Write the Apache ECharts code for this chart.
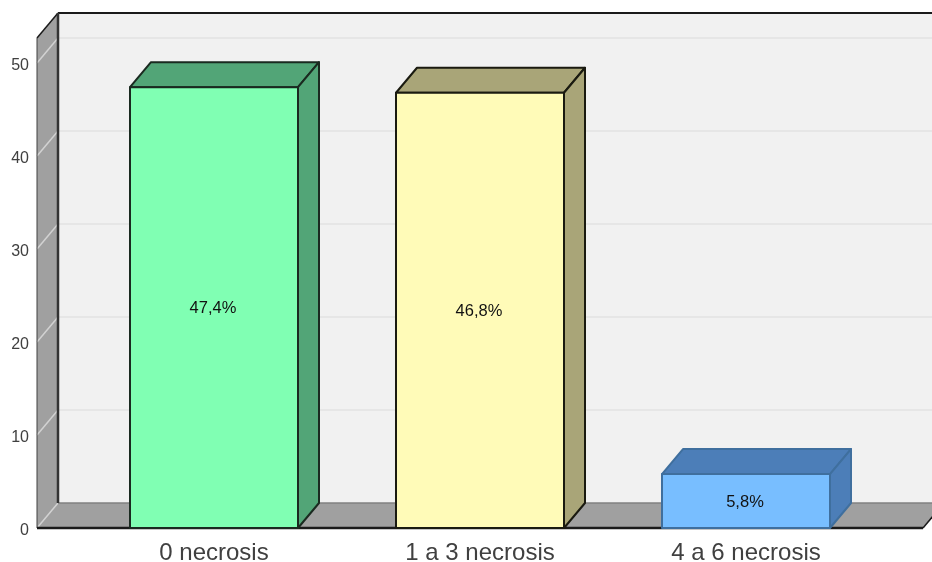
<!DOCTYPE html>
<html><head><meta charset="utf-8">
<style>html,body{margin:0;padding:0;background:#fff}#c{width:932px;height:562px}</style>
<script src="https://cdn.jsdelivr.net/npm/echarts@6/dist/echarts.min.js"></script>
</head><body><div id="c"></div>
<script>
const categories = ['0 necrosis', '1 a 3 necrosis', '4 a 6 necrosis'];
const values = [47.4, 46.8, 5.8];
const valueLabels = ['47,4%', '46,8%', '5,8%'];
const frontColors = ['#80FFB3', '#FFFBB8', '#78BEFF'];
const shadeColors = ['#52A577', '#A9A578', '#4C7EB8'];
const outlineColors = ['#1a2a20', '#1a1a10', '#3f6f9e'];
const yTicks = [0, 10, 20, 30, 40, 50];

const DX = 21, DY = 25, HEAD = 25, SIDE = 44, BAR = 168 / 266;
const chart = echarts.init(document.getElementById('c'), null, {renderer: 'canvas'});

function wallItem(params, api) {
  const cs = params.coordSys;
  const x0 = cs.x - SIDE, x1 = cs.x + cs.width + SIDE;
  const yB = api.coord([0, 0])[1], yT = api.coord([0, 50])[1] - HEAD;
  const ch = [];
  const poly = (pts, fill, stroke, lw) => ({type: 'polygon', shape: {points: pts},
    style: {fill: fill, stroke: stroke || null, lineWidth: lw || 0}});
  const line = (a, b, c, w) => ({type: 'line', shape: {x1: a[0], y1: a[1], x2: b[0], y2: b[1]},
    style: {stroke: c, lineWidth: w}});
  ch.push(poly([[x0 + DX, yT - DY + 0], [x1 + DX, yT - DY], [x1 + DX, yB - DY], [x0 + DX, yB - DY]], '#F1F1F1'));
  ch.push(poly([[x0, yT], [x0 + DX, yT - DY], [x0 + DX, yB - DY], [x0, yB]], '#A0A0A0'));
  ch.push(poly([[x0, yB], [x0 + DX, yB - DY], [x1 + DX, yB - DY], [x1, yB]], '#A0A0A0'));
  yTicks.forEach(t => {
    const y = api.coord([0, t])[1];
    if (t > 0) ch.push(line([x0 + DX, y - DY], [x1 + DX, y - DY], '#E6E6E6', 2));
    ch.push(line([x0, y], [x0 + DX, y - DY], '#D2D2D2', 1.5));
  });
  ch.push(line([x0 + DX, yB - DY], [x1 + DX, yB - DY], '#808080', 1.5));
  ch.push(line([x0 + DX, yT - DY], [x1 + DX, yT - DY], '#1a1a1a', 2));
  ch.push(line([x0, yT], [x0 + DX, yT - DY], '#1a1a1a', 1.5));
  ch.push(line([x0 + DX, yT - DY], [x0 + DX, yB - DY], '#333333', 2.5));
  ch.push(line([x0, yT], [x0, yB], '#404040', 1));
  ch.push(line([x0, yB], [x1, yB], '#1a1a1a', 2.5));
  ch.push(line([x1, yB], [x1 + DX, yB - DY], '#1a1a1a', 1.5));
  return {type: 'group', children: ch};
}

function barItem(params, api) {
  const i = api.value(0);
  const top = api.coord([i, api.value(1)]);
  const base = api.coord([i, 0]);
  const w = api.size([1, 0])[0] * BAR;
  const l = top[0] - w / 2, r = top[0] + w / 2;
  const st = (fill) => ({fill: fill, stroke: outlineColors[i], lineWidth: 2, lineJoin: 'round'});
  return {type: 'group', children: [
    {type: 'polygon', shape: {points: [[l, top[1]], [l + DX, top[1] - DY], [r + DX, top[1] - DY], [r, top[1]]]}, style: st(shadeColors[i])},
    {type: 'polygon', shape: {points: [[r, top[1]], [r + DX, top[1] - DY], [r + DX, base[1] - DY], [r, base[1]]]}, style: st(shadeColors[i])},
    {type: 'rect', shape: {x: l, y: top[1], width: r - l, height: base[1] - top[1]}, style: st(frontColors[i])},
    {type: 'text', style: {text: valueLabels[i], x: top[0] - 1, y: (top[1] + base[1]) / 2 + 1, align: 'center', verticalAlign: 'middle',
      fill: '#111', font: '16.5px "Liberation Sans", Arial, sans-serif'}}
  ]};
}

chart.setOption({
  animation: false,
  backgroundColor: '#fff',
  grid: {left: 81, right: 53, top: 63, bottom: 34, outerBoundsMode: 'none'},
  xAxis: {type: 'category', data: categories,
    axisLine: {show: false}, axisTick: {show: false}, splitLine: {show: false},
    axisLabel: {color: '#404040', fontSize: 24, fontFamily: '"Liberation Sans", Arial, sans-serif', margin: 13, interval: 0}},
  yAxis: {type: 'value', min: 0, max: 50, interval: 10, offset: 44,
    axisLine: {show: false}, axisTick: {show: false}, splitLine: {show: false},
    axisLabel: {color: '#404040', fontSize: 16, fontFamily: '"Liberation Sans", Arial, sans-serif', margin: 8, verticalAlign: 'top', lineHeight: 6}},
  series: [
    {type: 'custom', renderItem: wallItem, clip: false, silent: true, z: 1, data: [[0, 0]], encode: {x: 0, y: 1}},
    {type: 'custom', renderItem: barItem, clip: false, z: 2,
      data: values.map((v, i) => [i, v]), encode: {x: 0, y: 1}}
  ]
});
</script></body></html>
